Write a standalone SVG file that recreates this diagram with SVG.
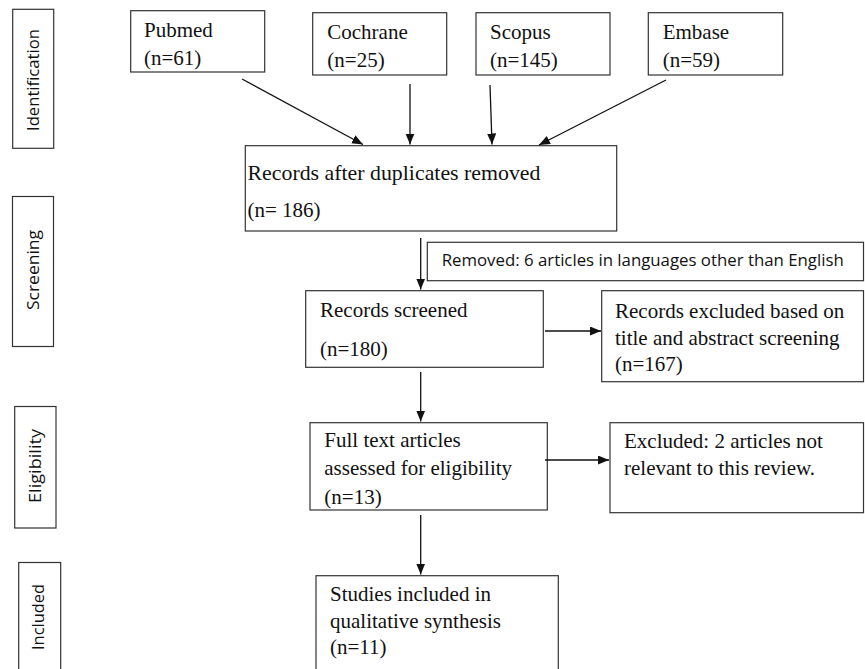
<svg xmlns="http://www.w3.org/2000/svg" width="865" height="669" viewBox="0 0 865 669">
<defs>
<marker id="ah" markerUnits="userSpaceOnUse" markerWidth="12" markerHeight="10" refX="11" refY="4.5" orient="auto">
<path d="M0,0 L11,4.5 L0,9 z" fill="#111"/>
</marker>
</defs>
<style>
.box{fill:#fff;stroke:#333;stroke-width:1.2}
.t{font-family:"Liberation Serif","Times New Roman",serif;font-size:21px;fill:#111}
.s{font-family:"Open Sans","Noto Sans",sans-serif;font-size:16px;fill:#111}
.lab{font-family:"Open Sans","Noto Sans",sans-serif;font-size:17px;fill:#111;text-anchor:middle}
.c{stroke:#111;stroke-width:1.3;fill:none;marker-end:url(#ah)}
</style>
<rect width="865" height="669" fill="#fff"/>
<g id="stage-identification">
<rect class="box" x="12.7" y="9.3" width="41" height="139"/>
<text class="lab" transform="translate(39,80) rotate(-90)" textLength="102" lengthAdjust="spacingAndGlyphs">Identification</text>
</g>
<g id="stage-screening">
<rect class="box" x="12.5" y="196.5" width="41" height="150"/>
<text class="lab" transform="translate(38.5,270) rotate(-90)" textLength="80" lengthAdjust="spacingAndGlyphs">Screening</text>
</g>
<g id="stage-eligibility">
<rect class="box" x="14.7" y="406.5" width="41.3" height="121.5"/>
<text class="lab" transform="translate(40.5,466) rotate(-90)" textLength="74" lengthAdjust="spacingAndGlyphs">Eligibility</text>
</g>
<g id="stage-included">
<rect class="box" x="18.7" y="562.5" width="42" height="120"/>
<text class="lab" transform="translate(44,617) rotate(-90)" textLength="66" lengthAdjust="spacingAndGlyphs">Included</text>
</g>
<g id="pubmed">
<rect class="box" x="130.7" y="10.7" width="134" height="61.3"/>
<text class="t" x="144" y="37">Pubmed</text>
<text class="t" x="144" y="65">(n=61)</text>
</g>
<g id="cochrane">
<rect class="box" x="312.7" y="12.7" width="134" height="62.3"/>
<text class="t" x="327.3" y="39">Cochrane</text>
<text class="t" x="327.3" y="67">(n=25)</text>
</g>
<g id="scopus">
<rect class="box" x="476" y="12.7" width="134" height="62.3"/>
<text class="t" x="490" y="39">Scopus</text>
<text class="t" x="490" y="67">(n=145)</text>
</g>
<g id="embase">
<rect class="box" x="648.3" y="12.7" width="134.4" height="62.3"/>
<text class="t" x="662.7" y="39">Embase</text>
<text class="t" x="662.7" y="67">(n=59)</text>
</g>
<g id="duplicates-removed">
<rect class="box" x="245.3" y="145.7" width="371.4" height="85.3"/>
<text class="t" x="247.5" y="180" textLength="293" lengthAdjust="spacingAndGlyphs">Records after duplicates removed</text>
<text class="t" x="247.5" y="217">(n= 186)</text>
</g>
<g id="removed-language">
<rect class="box" x="427.3" y="242.3" width="436.2" height="38.4"/>
<text class="s" x="441.7" y="266" textLength="402" lengthAdjust="spacingAndGlyphs">Removed: 6 articles in languages other than English</text>
</g>
<g id="records-screened">
<rect class="box" x="305.7" y="290.7" width="237.6" height="76.6"/>
<text class="t" x="320" y="317">Records screened</text>
<text class="t" x="320" y="356">(n=180)</text>
</g>
<g id="records-excluded">
<rect class="box" x="601.7" y="290.7" width="261.8" height="91"/>
<text class="t" x="615" y="317.5">Records excluded based on</text>
<text class="t" x="615" y="344.5">title and abstract screening</text>
<text class="t" x="615" y="371">(n=167)</text>
</g>
<g id="full-text">
<rect class="box" x="310" y="422.7" width="237.3" height="87.3"/>
<text class="t" x="324.3" y="447">Full text articles</text>
<text class="t" x="324.3" y="475">assessed for eligibility</text>
<text class="t" x="324.3" y="503.5">(n=13)</text>
</g>
<g id="excluded-not-relevant">
<rect class="box" x="610" y="422.7" width="253.5" height="90"/>
<text class="t" x="624" y="448">Excluded: 2 articles not</text>
<text class="t" x="624" y="475">relevant to this review.</text>
</g>
<g id="studies-included">
<rect class="box" x="316" y="575.7" width="242.3" height="110"/>
<text class="t" x="330" y="601">Studies included in</text>
<text class="t" x="330" y="627.5">qualitative synthesis</text>
<text class="t" x="330" y="654">(n=11)</text>
</g>
<g id="connectors">
<line class="c" x1="242" y1="79" x2="363" y2="144.5"/>
<line class="c" x1="410" y1="84" x2="410" y2="144.5"/>
<line class="c" x1="490" y1="85" x2="492" y2="144.5"/>
<line class="c" x1="666" y1="80" x2="539" y2="145"/>
<line class="c" x1="420.7" y1="238" x2="420.7" y2="289.5"/>
<line class="c" x1="420.7" y1="372" x2="420.7" y2="421.5"/>
<line class="c" x1="420.7" y1="515" x2="420.7" y2="574.5"/>
<line class="c" x1="545" y1="331" x2="601" y2="331"/>
<line class="c" x1="545" y1="460" x2="609" y2="460"/>
</g>
</svg>
